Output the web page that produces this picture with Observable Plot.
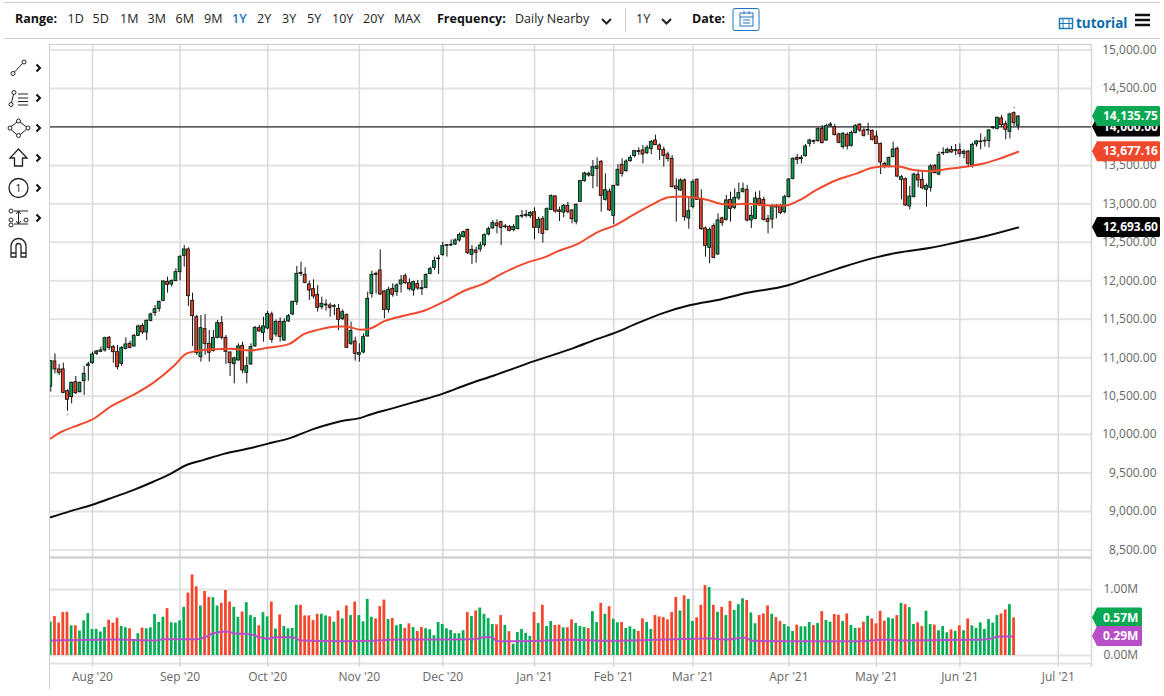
<!DOCTYPE html>
<html><head><meta charset="utf-8">
<script src="https://cdn.jsdelivr.net/npm/d3@7"></script>
<script src="https://cdn.jsdelivr.net/npm/@observablehq/plot@0.6"></script>
<style>
html,body{margin:0;padding:0;background:#fff;width:1164px;height:696px;overflow:hidden;font-family:"Open Sans",sans-serif;}
#stage{position:relative;width:1164px;height:696px;}
.t{position:absolute;font-size:12.5px;line-height:16px;color:#222;white-space:nowrap;top:11px;}
.b{font-weight:700;color:#111;}
.hl{position:absolute;height:1px;background:#cfcfcf;}
#price,#volume{position:absolute;left:0;}
#price{top:40px;} #volume{top:557px;}
#price svg,#volume svg{display:block;overflow:visible;}
#tools{position:absolute;left:0;top:50px;}
</style></head><body><div id="stage">
<div class="hl" style="left:4px;top:2px;width:1156px"></div>
<div class="hl" style="left:4px;top:38px;width:1156px"></div>
<div id="toolbar"></div>
<svg id="tools" width="48" height="220" fill="none" stroke="#222" stroke-width="1"></svg>
<div id="price"></div><div id="volume"></div>
</div>
<script>
const opens=[10626,10951,10847,10847,10565,10487,10682,10552,10695,10894,
10929,11050,11076,11094,11258,11137,11072,10920,11115,11180,
11146,11284,11414,11328,11479,11579,11635,11739,11986,11952,
11995,12112,12324,12407,11739,11527,11007,11371,11180,11089,
11258,11449,11258,11068,10916,10964,11154,10803,10912,11146,
11384,11323,11380,11562,11302,11466,11224,11471,11562,11722,
12103,12077,11952,11891,11817,11657,11679,11679,11661,11635,
11501,11553,11180,11211,11037,11068,11276,11830,12090,12134,
11861,11622,11895,11852,11952,12060,11969,11874,11960,11904,
11908,12090,12168,12281,12333,12454,12458,12472,12524,12567,
12662,12337,12394,12407,12463,12602,12680,12745,12762,12697,
12701,12658,12671,12836,12844,12840,12892,12688,12801,12662,
12922,13096,12914,12887,12974,12914,12766,13026,13295,13390,
13364,13455,13546,13052,13160,12844,13239,13507,13425,13555,
13620,13685,13694,13659,13711,13823,13758,13702,13641,13585,
13226,13174,13304,12810,12957,13312,13057,12680,12428,12710,
12342,12810,12792,13052,12948,13070,13156,13182,12784,12805,
13065,13052,12801,12797,12974,12974,12892,13087,13325,13598,
13581,13620,13780,13815,13815,13975,13823,14014,13997,13902,
13737,13897,13754,13919,14031,13953,13953,13949,13875,13780,
13520,13477,13607,13715,13312,13321,12966,13087,13377,13312,
13182,13208,13494,13381,13655,13663,13702,13689,13698,13650,
13680,13499,13772,13802,13811,13815,13984,13975,14110,14036,
13936,14179,14014];
const closes=[10955,10847,10803,10543,10452,10673,10539,10673,10790,10912,
11042,11081,11094,11254,11128,11072,10877,11124,11172,11128,
11284,11406,11328,11479,11562,11631,11726,11991,11947,11995,
12112,12307,12407,11800,11540,11059,11384,11180,11063,11258,
11449,11258,11076,10929,10990,11146,10834,10890,11137,11388,
11341,11406,11570,11232,11466,11271,11466,11540,11726,12090,
12090,11973,11874,11796,11648,11700,11691,11648,11670,11492,
11592,11128,11345,11050,11059,11267,11765,12077,12077,11822,
11622,11882,11817,11939,12004,11969,11891,11982,11900,11891,
12077,12151,12255,12290,12450,12463,12467,12524,12593,12632,
12359,12402,12363,12458,12593,12671,12749,12710,12688,12706,
12649,12701,12836,12844,12857,12883,12688,12792,12610,12931,
13100,12900,12896,12974,12892,12801,12987,13295,13395,13369,
13477,13486,13104,13178,12914,13234,13442,13390,13550,13598,
13685,13676,13641,13728,13806,13763,13702,13624,13585,13217,
13191,13304,12827,12905,13282,13052,12671,12454,12662,12298,
12784,12749,13044,12935,13078,13139,13191,12784,12844,13070,
12992,12792,12766,12966,12953,12879,13087,13317,13585,13572,
13598,13746,13823,13806,13971,13789,14010,14031,13893,13793,
13910,13746,13923,14010,13953,13884,13962,13832,13780,13537,
13477,13598,13706,13355,13347,12979,13096,13381,13304,13204,
13234,13486,13399,13633,13663,13702,13668,13698,13650,13676,
13520,13767,13811,13811,13819,13954,13993,14118,14023,13962,
14162,14049,14135.75];
const highs=[10964,11050,10912,10929,10582,10682,10756,10682,10886,10942,
11072,11094,11137,11267,11276,11159,11159,11146,11258,11215,
11302,11423,11440,11492,11579,11679,11735,11995,12047,12012,
12155,12328,12459,12428,11839,11549,11549,11562,11354,11354,
11484,11536,11289,11072,11007,11180,11202,11007,11180,11406,
11419,11527,11605,11592,11492,11518,11505,11562,11735,12186,
12242,12168,11995,12012,11939,11787,11752,11709,11691,11691,
11622,11570,11462,11267,11180,11310,11852,12125,12112,12402,
11874,11917,11960,11960,12069,12090,12025,11995,12004,12004,
12090,12177,12307,12328,12502,12472,12532,12545,12619,12645,
12671,12458,12437,12502,12610,12697,12784,12792,12775,12732,
12719,12732,12849,12914,12914,12900,12948,12827,12836,12948,
13117,13104,12957,12991,13022,12922,13000,13304,13412,13412,
13564,13598,13564,13390,13195,13239,13511,13585,13572,13628,
13694,13728,13758,13758,13823,13893,13780,13737,13672,13628,
13325,13325,13325,13087,13312,13325,13182,12697,12688,12740,
12870,12827,13109,13152,13195,13269,13269,13238,12966,13152,
13165,13087,12849,12992,12992,12992,13113,13325,13598,13641,
13628,13772,13841,13832,13988,14018,14031,14057,14031,13919,
13928,13923,13945,14031,14040,13988,14049,13962,13945,13789,
13542,13607,13802,13737,13368,13338,13226,13399,13433,13425,
13260,13511,13511,13672,13728,13724,13745,13771,13780,13702,
13694,13789,13824,13910,13867,13962,14006,14127,14149,14075,
14179,14196,14144];
const lows=[10552,10790,10769,10530,10305,10400,10522,10539,10509,10695,
10912,11029,11072,11072,11094,10929,10842,10886,11102,11115,
11137,11276,11302,11224,11466,11536,11592,11730,11839,11917,
11990,12000,12177,11666,11146,11029,10942,11029,10942,11072,
11245,11232,10912,10756,10660,10955,10790,10660,10899,11137,
11332,11202,11362,11189,11267,11202,11211,11458,11549,11679,
12055,11960,11744,11765,11592,11622,11605,11527,11549,11354,
11484,11120,11159,10955,10942,11050,11267,11774,11830,11809,
11505,11579,11787,11796,11839,11952,11865,11800,11874,11809,
11895,12077,12134,12082,12320,12307,12445,12458,12502,12558,
12342,12212,12229,12372,12437,12584,12671,12610,12458,12675,
12636,12636,12662,12810,12818,12810,12532,12610,12489,12645,
12914,12879,12770,12818,12870,12740,12727,13018,13282,13347,
13195,13217,12892,13035,12900,12732,13226,13347,13412,13542,
13598,13628,13520,13641,13641,13758,13564,13477,13542,13208,
12762,13160,12775,12671,12935,13044,12654,12307,12220,12285,
12329,12706,12775,12762,12922,13044,13139,12762,12680,12792,
12974,12775,12610,12675,12805,12861,12870,13078,13312,13511,
13520,13607,13737,13772,13802,13780,13815,13997,13884,13780,
13711,13702,13737,13910,13928,13867,13888,13815,13771,13381,
13455,13468,13598,13338,13052,12966,12922,13078,13208,13182,
12957,13152,13390,13364,13628,13650,13659,13628,13607,13585,
13485,13464,13737,13702,13737,13728,13962,13962,13997,13832,
13845,14006,13954];
const volumes=[.505,.59,.49,.65,.655,.45,.45,.37,.525,.635,
.395,.395,.355,.425,.535,.49,.565,.44,.42,.405,
.215,.33,.415,.405,.42,.62,.5,.58,.71,.495,
.49,.525,.73,.945,1.22,1.04,.75,.97,.88,.875,
.75,.79,.985,.81,.73,.58,.66,.8,.605,.575,
.45,.65,.585,.81,.4,.615,.44,.405,.41,.76,
.76,.6,.6,.53,.625,.625,.6,.585,.505,.675,
.555,.75,.605,.81,.605,.51,.85,.58,.555,.74,
.84,.545,.56,.45,.47,.41,.48,.425,.365,.425,
.405,.39,.30,.5,.47,.405,.38,.33,.33,.375,
.65,.59,.675,.72,.625,.56,.47,.465,.605,.455,
.36,.17,.35,.395,.335,.29,.65,.485,.76,.44,
.515,.455,.46,.42,.42,.54,.485,.44,.425,.41,
.665,.5,.79,.625,.74,.55,.495,.5,.41,.435,
.395,.365,.555,.5,.395,.605,.585,.575,.54,.65,
.88,.675,.905,.85,.515,.57,.76,1.06,1.03,.76,
.655,.73,.605,.82,.685,.77,.86,.835,.645,.48,
.605,.63,.75,.625,.575,.515,.47,.435,.365,.46,
.435,.435,.5,.455,.485,.665,.53,.505,.62,.61,
.515,.63,.455,.41,.415,.505,.595,.555,.48,.67,
.52,.57,.555,.605,.79,.77,.725,.47,.495,.44,
.67,.47,.46,.375,.44,.345,.39,.365,.45,.375,
.555,.45,.41,.495,.395,.545,.49,.605,.63,.69,
.77,.57];
const fastAt=[0,2.3,7,9.5,14.8,20,24.8,29.6,32.4,34.8,39.2,43.2,47.6,52,57.2,60.8,64,68.8,70.8,74.4,76.4,80,84.9,89.7,94.5,99.3,103.7,108.1,114.5,118.5,121.7,126.1,131.4,135.3,140.1,144.2,148.2,151.4,154.6,157,161.8,167.4,172.2,176.2,179.4,183.4,188.2,193,197,200.2,203.4,206.6,210.6,215.4,220.2,223.4,227.4,232];
const fastMA=[9950,10028,10132,10184,10379,10522,10682,10899,11050,11085,11111,11115,11094,11128,11180,11310,11362,11406,11406,11362,11375,11475,11549,11614,11735,11874,11960,12090,12242,12307,12385,12472,12640,12719,12870,12991,13087,13096,13078,13057,12992,13000,12979,12979,13044,13174,13304,13390,13468,13490,13485,13442,13425,13455,13490,13520,13585,13677.16];
const slowAt=[0,4.7,10.2,15.1,19.9,24.7,28.7,32.3,36.7,41.5,47.1,51.9,57.5,63.1,69.5,74.3,76.7,81.5,87.1,93.9,99.9,106.3,115.9,125.5,131.1,135.1,140.7,147,153.4,160.6,167,176.6,181.4,188.6,197.4,203,211,217.4,223.8,232];
const slowMA=[8925,9005,9092,9187,9282,9391,9490,9599,9672,9750,9815,9880,9958,10075,10175,10218,10262,10335,10422,10530,10652,10769,10955,11128,11245,11319,11449,11583,11685,11757,11843,11938,12025,12155,12298,12363,12428,12502,12576,12693.6];
const volMaAt=[0,15,25,27,35,37,39,42,44,48,50,52,54,58,60,70,77.5,81,88,101.5,103.9,105.8,106.9,113.4,124.6,133.4,144.6,158.2,161.4,166.6,168.2,177,195,200,204,221,224.5,227.7,230.6];
const volMA=[.227,.242,.227,.247,.247,.278,.338,.364,.338,.318,.278,.253,.278,.278,.227,.217,.222,.237,.242,.247,.278,.278,.217,.217,.237,.222,.237,.258,.242,.268,.222,.217,.217,.242,.227,.237,.247,.288,.288];
const monthAt=[10,31,52,74,94,116,135,154,177,198,218,241.6];
const monthLabels=["Aug '20","Sep '20","Oct '20","Nov '20","Dec '20","Jan '21","Feb '21","Mar '21","Apr '21","May '21","Jun '21","Jul '21"];
const priceTicks=[8500,9000,9500,10000,10500,11000,11500,12000,12500,13000,13500,14000,14500,15000];
const volumeTicks=[0,1];
const volumeEdges=[-0.12,1.485];
const levelPrice=14000;
const markerAt=[4,231];
const markerPrice=[10262,14252];
const rangeLabels=["1D","5D","1M","3M","6M","9M","1Y","2Y","3Y","5Y","10Y","20Y","MAX"];
const rangeLefts=[67.5,92.5,120,147.5,175.5,204,232,257,282,307,332,363,394];

const UP="#0aa14f",DOWN="#ea4326",VUP="#03ad53",VDOWN="#f5452a",GRID="#e2e2e2";
const candles=opens.map((o,i)=>({i,o,c:closes[i],h:highs[i],l:lows[i],up:closes[i]>=o}));
const bars=volumes.map((v,i)=>({i,v,up:candles[i].up}));
const xScale={type:"linear",domain:[-0.07,249.57],axis:null,label:null};
const base={width:1164,marginLeft:50,marginRight:73,marginTop:0,marginBottom:0,
  style:{fontFamily:"Open Sans",fontSize:"12px",background:"transparent",overflow:"visible"}};

function tag(value,label,fill,right){
  return (index,scales,values,dim)=>{
    const y=scales.y(value),x=dim.width-dim.marginRight+1;
    const g=d3.create("svg:g");
    g.append("path").attr("fill",fill)
      .attr("d",`M${x},${y}L${x+5},${y-10}H${right-1}L${right},${y-9}V${y+9}L${right-1},${y+10}H${x+5}Z`);
    g.append("text").attr("x",x+11).attr("y",y).attr("dy","0.35em").attr("fill","#fff")
      .attr("text-anchor","start").attr("font-weight",700).attr("font-size",12).attr("font-family","Open Sans").text(label);
    return g.node();
  };
}

const price=Plot.plot({...base,height:517,marginTop:4,
  x:xScale,
  y:{type:"linear",domain:[8500,15000],range:[509.5,9.5],axis:null,label:null},
  marks:[
    Plot.ruleY(priceTicks,{stroke:GRID,strokeWidth:2}),
    Plot.ruleX(monthAt,{stroke:"#d8d8d8",strokeWidth:1.5}),
    Plot.ruleX([249.57],{stroke:"#d8d8d8",strokeWidth:1.5}),
    Plot.ruleY([levelPrice],{stroke:"#333",strokeWidth:1.3}),
    Plot.ruleX(candles,{x:"i",y1:"l",y2:"h",stroke:"#111",strokeWidth:1,clip:true}),
    Plot.rect(candles,{x1:d=>d.i-.34,x2:d=>d.i+.34,y1:"o",y2:"c",fill:d=>d.up?UP:DOWN,stroke:"#111",strokeWidth:.9,clip:true}),
    Plot.dot(markerAt.map((i,k)=>({i,v:markerPrice[k]})),{x:"i",y:"v",r:.8,fill:"#f4705a"}),
    Plot.line(fastAt.map((a,k)=>({a,v:fastMA[k]})),{x:"a",y:"v",stroke:"#f0492e",strokeWidth:2,curve:"monotone-x"}),
    Plot.line(slowAt.map((a,k)=>({a,v:slowMA[k]})),{x:"a",y:"v",stroke:"#0c0c0c",strokeWidth:2,curve:"monotone-x"}),
    Plot.axisY(priceTicks,{anchor:"right",label:null,tickSize:0,tickPadding:65,textAnchor:"end",fill:"#666",tickFormat:d=>d3.format(",.2f")(d)}),
    tag(levelPrice,"14,000.00","#000",1160),
    tag(closes[closes.length-1],"14,135.75","#0aa853",1160),
    tag(fastMA[fastMA.length-1],"13,677.16","#f0482c",1160),
    tag(slowMA[slowMA.length-1],"12,693.60","#000",1160)
  ]});
document.getElementById("price").append(price);

const volume=Plot.plot({...base,height:133,marginBottom:23,
  x:xScale,
  y:{type:"linear",domain:[0,1],range:[98,32],axis:null,label:null},
  marks:[
    Plot.ruleY(volumeTicks,{stroke:GRID,strokeWidth:2}),
    Plot.ruleY([volumeEdges[0]],{stroke:GRID,strokeWidth:2}),
    Plot.ruleY([volumeEdges[1]],{stroke:"#c9c9c9",strokeWidth:2}),
    Plot.ruleX(monthAt,{stroke:"#d8d8d8",strokeWidth:1.5}),
    Plot.ruleX([249.57],{stroke:"#d8d8d8",strokeWidth:1.5}),
    Plot.rect(bars,{x1:d=>d.i-.33,x2:d=>d.i+.33,y1:0,y2:"v",fill:d=>d.up?VUP:VDOWN,clip:true}),
    Plot.line(volMaAt.map((a,k)=>({a,v:volMA[k]})),{x:"a",y:"v",stroke:"#b84fc8",strokeWidth:2,curve:"monotone-x"}),
    Plot.axisY(volumeTicks,{anchor:"right",label:null,tickSize:0,tickPadding:12,fill:"#666",tickFormat:d=>d3.format(".2f")(d)+"M"}),
    Plot.axisX(monthAt,{anchor:"bottom",label:null,tickSize:0,tickPadding:5,fill:"#666",tickFormat:(d,i)=>monthLabels[i]}),
    tag(volumes[volumes.length-1],"0.57M","#0aa853",1142),
    tag(volMA[volMA.length-1],"0.29M","#b84fc8",1142)
  ]});
document.getElementById("volume").append(volume);

// left axis line running the full height of both panels
const stage=document.getElementById("stage");
const ln=document.createElement("div");
ln.style.cssText="position:absolute;left:49px;top:44px;width:1px;height:645px;background:#cfcfcf";
stage.append(ln);
const tl=document.createElement("div");
tl.style.cssText="position:absolute;left:49px;top:44px;width:1043px;height:1px;background:#cfcfcf";
stage.append(tl);

// toolbar
const tb=document.getElementById("toolbar");
const add=(txt,left,cls,extra)=>{const e=document.createElement("div");e.className="t "+(cls||"");e.style.left=left+"px";e.textContent=txt;if(extra)e.style.cssText+=extra;tb.append(e);return e;};
add("Range:",15,"b");
rangeLabels.forEach((r,k)=>add(r,rangeLefts[k],"",r==="1Y"?"color:#1a73c4;font-weight:600":""));
add("Frequency:",437,"b");add("Daily Nearby",515,"");add("1Y",636,"");add("Date:",692,"b");
add("tutorial",1076,"b","color:#0b6aa8;font-size:13.5px;top:15px");
const chrome=`<svg width="1164" height="40" style="position:absolute;left:0;top:0" fill="none">
<path d="M602 19l4.500 4.500 4.500-4.500M662 19l4.500 4.500 4.500-4.500" stroke="#222" stroke-width="2"/>
<path d="M625.500 8v24" stroke="#ccc"/>
<rect x="733" y="8.500" width="26" height="22" rx="2" stroke="#1a73c4"/>
<rect x="740" y="13" width="13" height="13" stroke="#1a73c4"/><path d="M740 17h13M743 20h7M743 23h7M744 11v3M749 11v3" stroke="#1a73c4"/>
<rect x="1059.500" y="18.500" width="13" height="10" stroke="#1a7ab8" stroke-width="1.500"/><path d="M1063 18v11M1069 18v11M1060 23.500h12" stroke="#1a7ab8"/>
<path d="M1135 15h15M1135 20h15M1135 25h15" stroke="#111" stroke-width="2.500"/></svg>`;
tb.insertAdjacentHTML("beforeend",chrome);

// drawing tool icons
document.getElementById("tools").innerHTML=`
<g transform="translate(0,-50)">
<circle cx="13" cy="73.500" r="2"/><circle cx="24" cy="62" r="2"/><path d="M14.500 72L22.500 63.500"/>
<circle cx="11" cy="104.500" r="2"/><circle cx="14" cy="92.500" r="2"/><path d="M11.500 102.500L13.500 94.500M18 94h10M18 98h10M18 101.500h10M18 105h10"/>
<path d="M18.500 121l9.500 7-9.500 8-9.500-8z"/><circle cx="18.500" cy="121" r="2" fill="#fff"/><circle cx="28" cy="128" r="2" fill="#fff"/><circle cx="18.500" cy="135.500" r="2" fill="#fff"/><circle cx="10" cy="128" r="2" fill="#fff"/>
<path d="M18.500 149l8.500 9h-4.500v8h-8v-8H10z" stroke-width="1.300"/>
<circle cx="18.500" cy="188" r="9.500" stroke-width="1.300"/><text x="18.500" y="192" text-anchor="middle" font-size="11" fill="#222" stroke="none">1</text>
<path d="M14 211h14M14 224h14M18.500 211v13M16 214l2.500-3 2.500 3M16 221l2.500 3 2.500-3"/><circle cx="11" cy="211" r="2"/><circle cx="11" cy="220" r="2"/><circle cx="11" cy="225" r="2"/><circle cx="26" cy="220" r="2"/>
<path d="M11 257v-11a7.500 7.500 0 0 1 15 0v11h-5v-11a2.500 2.500 0 0 0-5 0v11z" stroke-width="1.300"/><path d="M11 253h5M21 253h5" stroke-width="1.300"/>
${[68,98,128,158,188,218].map(y=>`<path d="M36.500 ${y-3.500}l3.500 3.500-3.500 3.500" stroke="#111" stroke-width="2"/>`).join("")}
</g>`;
</script></body></html>
